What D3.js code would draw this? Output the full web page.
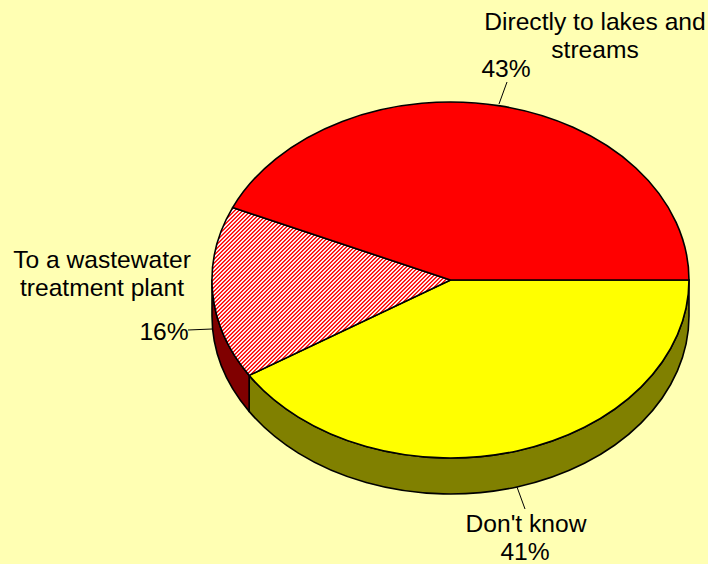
<!DOCTYPE html>
<html><head><meta charset="utf-8">
<script src="https://cdn.jsdelivr.net/npm/d3@7"></script>
<style>html,body{margin:0;padding:0;background:#FFFFB3}svg{display:block}text{font-family:"Liberation Sans",Arial,sans-serif;font-size:24.6px;fill:#000;text-anchor:middle}</style>
</head><body><svg id="c" width="708" height="564"></svg>
<script>
const categories=["Don't know","To a wastewater treatment plant","Directly to lakes and streams"];
const values=[41,15.67,43.33];
const topColors=["#FFFF00","url(#hatch)","#FF0000"];
const sideColors=["#808000","#800000","#800000"];
const labelLines=[["Don't know","41%"],["To a wastewater","treatment plant","16%"],["Directly to lakes and","streams","43%"]];
const hatchTones=["#FF0000","#FF4040","#FFFFFF","#FFD0D0"];
const cx=450.5,cy=280,rx=238.5,ry=178,depth=36;
const svg=d3.select("#c");
svg.append("rect").attr("width",708).attr("height",564).attr("fill","#FFFFB3");
const p=svg.append("defs").append("pattern").attr("id","hatch").attr("patternUnits","userSpaceOnUse").attr("width",4).attr("height",4);
d3.cross(d3.range(4),d3.range(4)).forEach(([x,y])=>{
  p.append("rect").attr("x",x).attr("y",y).attr("width",1).attr("height",1).attr("fill",hatchTones[(x+y)%4]).attr("shape-rendering","crispEdges");
});
const pie=d3.pie().sort(null).startAngle(Math.PI/2).endAngle(Math.PI*2.5)(values);
const xs=d3.scaleLinear().domain([-1,1]).range([cx-rx,cx+rx]);
const ys=d3.scaleLinear().domain([-1,1]).range([cy-ry,cy+ry]);
const pt=(a,off=0)=>[xs(Math.sin(a)),ys(-Math.cos(a))+off];
function arcTo(a1,off,a0){const q=pt(a1,off);const large=Math.abs(a1-a0)>Math.PI?1:0;return `A${rx},${ry} 0 ${large} ${a1>a0?1:0} ${q[0]},${q[1]}`;}
pie.forEach((d,i)=>{
  const a0=Math.max(d.startAngle,Math.PI/2),a1=Math.min(d.endAngle,Math.PI*1.5);
  if(a1<=a0)return;
  const s=pt(a0),e=pt(a1);
  svg.append("path").attr("d",`M${s}${arcTo(a1,0,a0)}L${e[0]},${e[1]+depth}${arcTo(a0,depth,a1)}Z`)
    .attr("fill",sideColors[i]).attr("stroke","#000").attr("stroke-width",1.6).attr("stroke-linejoin","round");
});
pie.forEach((d,i)=>{
  const s=pt(d.startAngle);
  svg.append("path").attr("d",`M${cx},${cy}L${s}${arcTo(d.endAngle,0,d.startAngle)}Z`)
    .attr("fill",topColors[i]).attr("stroke","#000").attr("stroke-width",1.6).attr("stroke-linejoin","round");
});
const leaders=[[517,487,525,509],[212,329,188,330],[499,104,507,82]];
svg.selectAll("line.l").data(leaders).join("line").attr("class","l")
  .attr("x1",d=>d[0]).attr("y1",d=>d[1]).attr("x2",d=>d[2]).attr("y2",d=>d[3]).attr("stroke","#000").attr("stroke-width",1);
const labelPos=[[[526,532],[525,560]],[[102,268],[102,296],[164,340]],[[595,30],[595,58],[506,77]]];
labelLines.forEach((ls,i)=>ls.forEach((t,j)=>{
  svg.append("text").attr("x",labelPos[i][j][0]).attr("y",labelPos[i][j][1]).text(t);
}));
</script></body></html>
